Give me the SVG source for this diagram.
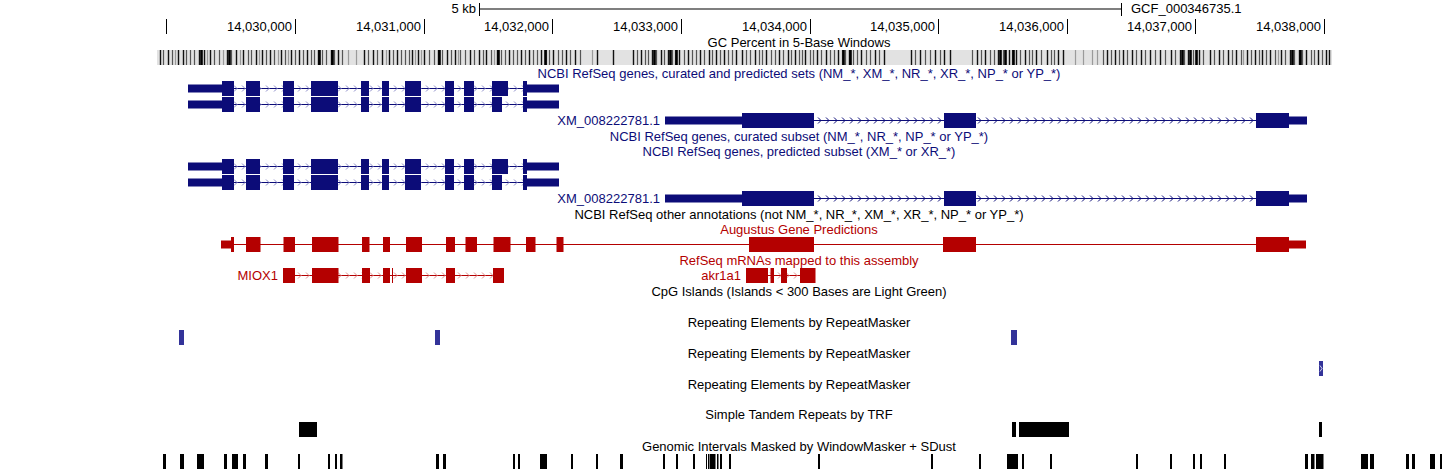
<svg xmlns="http://www.w3.org/2000/svg" width="1443" height="470" viewBox="0 0 1443 470">
<style>
.lb{font-family:"Liberation Sans",Arial,Helvetica,sans-serif;font-size:13px}
.mid{text-anchor:middle}
.end{text-anchor:end}
.nv{fill:#0c0c78}
.rd{fill:#b40000}
.bk{fill:#000}
.rp{fill:#333399}
.tk{stroke:#000;stroke-width:1}
.g0{stroke:#111;stroke-width:1.4;fill:none}
.gw{stroke:#000;stroke-width:2.6;fill:none}
.g1{stroke:#555;stroke-width:1.2;fill:none}
.g2{stroke:#9a9a9a;stroke-width:1.2;fill:none}
</style>
<defs>
<pattern id="arL" width="8" height="15" patternUnits="userSpaceOnUse"><path d="M2 4.5L5 7.5L2 10.5" fill="none" stroke="#8c8cc8" stroke-width="1"/></pattern>
<pattern id="arN" width="8" height="15" patternUnits="userSpaceOnUse"><path d="M2 4.5L5 7.5L2 10.5" fill="none" stroke="#0c0c78" stroke-width="1"/></pattern>
<pattern id="arR" width="8" height="15" patternUnits="userSpaceOnUse"><path d="M2 4.5L5 7.5L2 10.5" fill="none" stroke="#e08c8c" stroke-width="1"/></pattern>
</defs>
<rect width="1443" height="470" fill="#fff"/>

<g id="ruler">
<text class="lb end bk" x="476" y="13">5 kb</text>
<rect x="479" y="8.5" width="643" height="1" fill="#000"/>
<rect x="479" y="3" width="1" height="13" fill="#000"/>
<rect x="1121" y="3" width="1" height="13" fill="#000"/>
<text class="lb bk" x="1131" y="13">GCF_000346735.1</text>
<path class="tk" d="M166.5 19v15M295.5 19v15M424.5 19v15M552.5 19v15M681.5 19v15M810.5 19v15M938.5 19v15M1067.5 19v15M1195.5 19v15M1324.5 19v15"/>
<text class="lb end bk" x="292" y="31">14,030,000</text>
<text class="lb end bk" x="421" y="31">14,031,000</text>
<text class="lb end bk" x="549" y="31">14,032,000</text>
<text class="lb end bk" x="678" y="31">14,033,000</text>
<text class="lb end bk" x="807" y="31">14,034,000</text>
<text class="lb end bk" x="935" y="31">14,035,000</text>
<text class="lb end bk" x="1064" y="31">14,036,000</text>
<text class="lb end bk" x="1192" y="31">14,037,000</text>
<text class="lb end bk" x="1321" y="31">14,038,000</text>
</g>

<g id="gc-track">
<text class="lb mid bk" x="799" y="47">GC Percent in 5-Base Windows</text>
<rect x="157" y="50" width="1175" height="15" fill="#e2e2e2"/>
<path class="g2" d="M175.5 50v15M207.5 50v15M223.5 50v15M240.5 50v15M259.5 50v15M278.5 50v15M288.5 50v15M348.5 50v15M356.5 50v15M386.5 50v15M415.5 50v15M421.5 50v15M458.5 50v15M494.5 50v15M592.5 50v15M1075.5 50v15M1083.5 50v15M1092.5 50v15M1097.5 50v15M1243.5 50v15M1278.5 50v15"/>
<path class="g1" d="M163.5 50v15M172.5 50v15M186.5 50v15M190.5 50v15M194.5 50v15M214.5 50v15M219.5 50v15M231.5 50v15M248.5 50v15M251.5 50v15M266.5 50v15M274.5 50v15M285.5 50v15M295.5 50v15M303.5 50v15M311.5 50v15M314.5 50v15M322.5 50v15M326.5 50v15M334.5 50v15M342.5 50v15M368.5 50v15M377.5 50v15M393.5 50v15M401.5 50v15M405.5 50v15M409.5 50v15M429.5 50v15M434.5 50v15M442.5 50v15M451.5 50v15M460.5 50v15M465.5 50v15M474.5 50v15M483.5 50v15M491.5 50v15M501.5 50v15M505.5 50v15M513.5 50v15M517.5 50v15M525.5 50v15M533.5 50v15M537.5 50v15M546.5 50v15M549.5 50v15M558.5 50v15M562.5 50v15M570.5 50v15M580.5 50v15M637.5 50v15M645.5 50v15M648.5 50v15M656.5 50v15M664.5 50v15M672.5 50v15M675.5 50v15M684.5 50v15M692.5 50v15M696.5 50v15M704.5 50v15M712.5 50v15M720.5 50v15M728.5 50v15M732.5 50v15M746.5 50v15M750.5 50v15M759.5 50v15M762.5 50v15M771.5 50v15M775.5 50v15M783.5 50v15M791.5 50v15M799.5 50v15M802.5 50v15M810.5 50v15M813.5 50v15M821.5 50v15M830.5 50v15M834.5 50v15M842.5 50v15M845.5 50v15M853.5 50v15M857.5 50v15M866.5 50v15M870.5 50v15M879.5 50v15M915.5 50v15M925.5 50v15M930.5 50v15M940.5 50v15M972.5 50v15M981.5 50v15M990.5 50v15M994.5 50v15M1003.5 50v15M1012.5 50v15M1020.5 50v15M1029.5 50v15M1032.5 50v15M1041.5 50v15M1051.5 50v15M1054.5 50v15M1103.5 50v15M1111.5 50v15M1119.5 50v15M1127.5 50v15M1136.5 50v15M1145.5 50v15M1155.5 50v15M1165.5 50v15M1175.5 50v15M1184.5 50v15M1193.5 50v15M1203.5 50v15M1214.5 50v15M1223.5 50v15M1232.5 50v15M1241.5 50v15M1251.5 50v15M1259.5 50v15M1266.5 50v15M1275.5 50v15M1285.5 50v15M1294.5 50v15M1302.5 50v15M1311.5 50v15M1314.5 50v15M1322.5 50v15"/>
<path class="g0" d="M160.5 50v15M168.5 50v15M178.5 50v15M183.5 50v15M199.5 50v15M204.5 50v15M210.5 50v15M227.5 50v15M236.5 50v15M243.5 50v15M256.5 50v15M262.5 50v15M270.5 50v15M281.5 50v15M291.5 50v15M299.5 50v15M307.5 50v15M318.5 50v15M331.5 50v15M338.5 50v15M364.5 50v15M373.5 50v15M382.5 50v15M389.5 50v15M397.5 50v15M412.5 50v15M418.5 50v15M424.5 50v15M438.5 50v15M447.5 50v15M455.5 50v15M470.5 50v15M479.5 50v15M486.5 50v15M497.5 50v15M509.5 50v15M521.5 50v15M529.5 50v15M541.5 50v15M553.5 50v15M566.5 50v15M575.5 50v15M597.5 50v15M613.5 50v15M633.5 50v15M641.5 50v15M652.5 50v15M661.5 50v15M668.5 50v15M679.5 50v15M688.5 50v15M700.5 50v15M709.5 50v15M716.5 50v15M724.5 50v15M736.5 50v15M742.5 50v15M755.5 50v15M766.5 50v15M779.5 50v15M788.5 50v15M795.5 50v15M805.5 50v15M817.5 50v15M826.5 50v15M838.5 50v15M849.5 50v15M861.5 50v15M875.5 50v15M884.5 50v15M911.5 50v15M920.5 50v15M935.5 50v15M944.5 50v15M950.5 50v15M977.5 50v15M985.5 50v15M998.5 50v15M1009.5 50v15M1016.5 50v15M1025.5 50v15M1036.5 50v15M1047.5 50v15M1058.5 50v15M1063.5 50v15M1107.5 50v15M1115.5 50v15M1123.5 50v15M1132.5 50v15M1141.5 50v15M1150.5 50v15M1160.5 50v15M1171.5 50v15M1180.5 50v15M1188.5 50v15M1199.5 50v15M1210.5 50v15M1219.5 50v15M1228.5 50v15M1236.5 50v15M1247.5 50v15M1255.5 50v15M1262.5 50v15M1270.5 50v15M1281.5 50v15M1290.5 50v15M1299.5 50v15M1306.5 50v15M1318.5 50v15M1326.5 50v15M1329.5 50v15"/>
<path class="gw" d="M201.5 50v15M229.5 50v15M319.5 50v15M332.5 50v15M439.5 50v15M498.5 50v15M545.5 50v15M654.5 50v15M670.5 50v15M676.5 50v15M843.5 50v15M850.5 50v15M1000.5 50v15M1005.5 50v15M1013.5 50v15M1182.5 50v15M1190.5 50v15M1196.5 50v15M1292.5 50v15M1300.5 50v15"/>
</g>

<g id="refseq-all">
<text class="lb mid nv" x="799" y="78">NCBI RefSeq genes, curated and predicted sets (NM_*, XM_*, NR_*, XR_*, NP_* or YP_*)</text>
<g id="refseq-all-row1" transform="translate(0,81)" class="nv">
<rect x="234" y="7" width="289" height="1"/>
<rect x="234" y="0" width="289" height="15" fill="url(#arL)"/>
<rect x="188" y="3.5" width="34" height="8"/>
<rect x="222" y="0" width="12" height="15"/><rect x="246" y="0" width="14" height="15"/><rect x="283" y="0" width="11" height="15"/><rect x="311" y="0" width="27" height="15"/><rect x="361" y="0" width="8" height="15"/><rect x="382" y="0" width="7" height="15"/><rect x="405" y="0" width="16" height="15"/><rect x="445" y="0" width="9" height="15"/><rect x="464" y="0" width="10" height="15"/><rect x="492" y="0" width="16" height="15"/><rect x="523" y="0" width="4" height="15"/>
<rect x="527" y="3.5" width="32" height="8"/>
</g>
<g id="refseq-all-row2" transform="translate(0,97)" class="nv">
<rect x="234" y="7" width="289" height="1"/>
<rect x="234" y="0" width="289" height="15" fill="url(#arL)"/>
<rect x="188" y="3.5" width="34" height="8"/>
<rect x="222" y="0" width="12" height="15"/><rect x="246" y="0" width="14" height="15"/><rect x="283" y="0" width="11" height="15"/><rect x="311" y="0" width="27" height="15"/><rect x="361" y="0" width="8" height="15"/><rect x="382" y="0" width="7" height="15"/><rect x="405" y="0" width="16" height="15"/><rect x="445" y="0" width="9" height="15"/><rect x="464" y="0" width="10" height="15"/><rect x="492" y="0" width="10" height="15"/><rect x="523" y="0" width="4" height="15"/>
<rect x="527" y="3.5" width="32" height="8"/>
</g>
<g id="refseq-all-xm" transform="translate(0,113)" class="nv">
<text class="lb end" x="660" y="12">XM_008222781.1</text>
<rect x="814" y="7" width="442" height="1"/>
<rect x="814" y="0" width="442" height="15" fill="url(#arN)"/>
<rect x="665" y="3.5" width="77" height="8"/>
<rect x="742" y="0" width="72" height="15"/><rect x="944" y="0" width="32" height="15"/><rect x="1256" y="0" width="33" height="15"/>
<rect x="1289" y="3.5" width="18" height="8"/>
</g>
</g>

<g id="refseq-curated">
<text class="lb mid nv" x="799" y="141">NCBI RefSeq genes, curated subset (NM_*, NR_*, NP_* or YP_*)</text>
</g>

<g id="refseq-predicted">
<text class="lb mid nv" x="799" y="156">NCBI RefSeq genes, predicted subset (XM_* or XR_*)</text>
<g id="refseq-pred-row1" transform="translate(0,159)" class="nv">
<rect x="234" y="7" width="289" height="1"/>
<rect x="234" y="0" width="289" height="15" fill="url(#arL)"/>
<rect x="188" y="3.5" width="34" height="8"/>
<rect x="222" y="0" width="12" height="15"/><rect x="246" y="0" width="14" height="15"/><rect x="283" y="0" width="11" height="15"/><rect x="311" y="0" width="27" height="15"/><rect x="361" y="0" width="8" height="15"/><rect x="382" y="0" width="7" height="15"/><rect x="405" y="0" width="16" height="15"/><rect x="445" y="0" width="9" height="15"/><rect x="464" y="0" width="10" height="15"/><rect x="492" y="0" width="16" height="15"/><rect x="523" y="0" width="4" height="15"/>
<rect x="527" y="3.5" width="32" height="8"/>
</g>
<g id="refseq-pred-row2" transform="translate(0,175)" class="nv">
<rect x="234" y="7" width="289" height="1"/>
<rect x="234" y="0" width="289" height="15" fill="url(#arL)"/>
<rect x="188" y="3.5" width="34" height="8"/>
<rect x="222" y="0" width="12" height="15"/><rect x="246" y="0" width="14" height="15"/><rect x="283" y="0" width="11" height="15"/><rect x="311" y="0" width="27" height="15"/><rect x="361" y="0" width="8" height="15"/><rect x="382" y="0" width="7" height="15"/><rect x="405" y="0" width="16" height="15"/><rect x="445" y="0" width="9" height="15"/><rect x="464" y="0" width="10" height="15"/><rect x="492" y="0" width="10" height="15"/><rect x="523" y="0" width="4" height="15"/>
<rect x="527" y="3.5" width="32" height="8"/>
</g>
<g id="refseq-pred-xm" transform="translate(0,191)" class="nv">
<text class="lb end" x="660" y="12">XM_008222781.1</text>
<rect x="814" y="7" width="442" height="1"/>
<rect x="814" y="0" width="442" height="15" fill="url(#arN)"/>
<rect x="665" y="3.5" width="77" height="8"/>
<rect x="742" y="0" width="72" height="15"/><rect x="944" y="0" width="32" height="15"/><rect x="1256" y="0" width="33" height="15"/>
<rect x="1289" y="3.5" width="18" height="8"/>
</g>
</g>

<g id="refseq-other">
<text class="lb mid bk" x="799" y="219">NCBI RefSeq other annotations (not NM_*, NR_*, XM_*, XR_*, NP_* or YP_*)</text>
</g>

<g id="augustus">
<text class="lb mid rd" x="799" y="234">Augustus Gene Predictions</text>
<g transform="translate(0,237)" class="rd">
<rect x="221" y="7" width="1068" height="1"/>
<rect x="221" y="3.5" width="10" height="8"/>
<rect x="231" y="0" width="3" height="15"/><rect x="246" y="0" width="14.5" height="15"/><rect x="283.5" y="0" width="11.5" height="15"/><rect x="312" y="0" width="26.5" height="15"/><rect x="362" y="0" width="7.5" height="15"/><rect x="383" y="0" width="7" height="15"/><rect x="406" y="0" width="16" height="15"/><rect x="446" y="0" width="9" height="15"/><rect x="465.5" y="0" width="11.5" height="15"/><rect x="493.5" y="0" width="17" height="15"/><rect x="526" y="0" width="9.5" height="15"/><rect x="556.5" y="0" width="7" height="15"/><rect x="749" y="0" width="65" height="15"/><rect x="943" y="0" width="33" height="15"/><rect x="1256" y="0" width="33" height="15"/>
<rect x="1289" y="3.5" width="17" height="8"/>
</g>
</g>

<g id="refseq-mrna">
<text class="lb mid rd" x="799" y="265">RefSeq mRNAs mapped to this assembly</text>
<g id="miox1" transform="translate(0,268)" class="rd">
<text class="lb end" x="278" y="12">MIOX1</text>
<rect x="295" y="7" width="198" height="1"/>
<rect x="295" y="0" width="198" height="15" fill="url(#arR)"/>
<rect x="283" y="0" width="12" height="15"/><rect x="312" y="0" width="26.5" height="15"/><rect x="362" y="0" width="8" height="15"/><rect x="383" y="0" width="7" height="15"/><rect x="392" y="0" width="1" height="15"/><rect x="406" y="0" width="16" height="15"/><rect x="446" y="0" width="9" height="15"/><rect x="493" y="0" width="11" height="15"/>
</g>
<g id="akr1a1" transform="translate(0,268)" class="rd">
<text class="lb end" x="741" y="12">akr1a1</text>
<rect x="768" y="7" width="32" height="1"/>
<rect x="768" y="0" width="32" height="15" fill="url(#arR)"/>
<rect x="746" y="0" width="22" height="15"/><rect x="770.5" y="0" width="3.5" height="15"/><rect x="781" y="0" width="6" height="15"/><rect x="800" y="0" width="15.5" height="15"/>
</g>
</g>

<g id="cpg">
<text class="lb mid bk" x="799" y="296">CpG Islands (Islands &lt; 300 Bases are Light Green)</text>
</g>

<g id="repeats1">
<text class="lb mid bk" x="799" y="327">Repeating Elements by RepeatMasker</text>
<rect class="rp" x="179" y="330" width="5" height="15"/>
<rect class="rp" x="435" y="330" width="5" height="15"/>
<rect class="rp" x="1011" y="330" width="6" height="15"/>
</g>
<g id="repeats2">
<text class="lb mid bk" x="799" y="358">Repeating Elements by RepeatMasker</text>
<rect class="rp" x="1319" y="361" width="4" height="15"/>
<path d="M1320 365.5L1322 368.5L1320 371.5" fill="none" stroke="#fff" stroke-width="0.8"/>
</g>
<g id="repeats3">
<text class="lb mid bk" x="799" y="389">Repeating Elements by RepeatMasker</text>
</g>

<g id="trf">
<text class="lb mid bk" x="799" y="419">Simple Tandem Repeats by TRF</text>
<g class="bk">
<rect x="299" y="422" width="18" height="15"/>
<rect x="1012" y="422" width="4" height="15"/>
<rect x="1019" y="422" width="50" height="15"/>
<rect x="1319" y="422" width="3" height="15"/>
</g>
</g>

<g id="windowmasker">
<text class="lb mid bk" x="799" y="451">Genomic Intervals Masked by WindowMasker + SDust</text>
<g class="bk">
<rect x="163" y="454" width="3" height="15"/><rect x="180" y="454" width="4" height="15"/><rect x="197" y="454" width="7" height="15"/><rect x="224" y="454" width="3" height="15"/><rect x="232" y="454" width="6" height="15"/><rect x="243" y="454" width="3" height="15"/><rect x="265" y="454" width="3" height="15"/><rect x="298" y="454" width="2" height="15"/><rect x="328" y="454" width="2" height="15"/><rect x="335" y="454" width="2" height="15"/><rect x="340" y="454" width="2.5" height="15"/><rect x="436" y="454" width="3" height="15"/><rect x="443" y="454" width="3" height="15"/><rect x="513" y="454" width="2" height="15"/><rect x="518" y="454" width="2" height="15"/><rect x="540" y="454" width="7" height="15"/><rect x="571" y="454" width="2" height="15"/><rect x="596" y="454" width="2" height="15"/><rect x="620" y="454" width="3" height="15"/><rect x="663" y="454" width="2" height="15"/><rect x="676" y="454" width="2" height="15"/><rect x="693" y="454" width="2" height="15"/><rect x="706" y="454" width="1" height="15"/><rect x="708" y="454" width="1" height="15"/><rect x="709.5" y="454" width="6" height="15"/><rect x="717" y="454" width="1.5" height="15"/><rect x="720" y="454" width="2" height="15"/><rect x="729" y="454" width="2" height="15"/><rect x="818" y="454" width="2" height="15"/><rect x="931" y="454" width="2" height="15"/><rect x="979" y="454" width="2" height="15"/><rect x="1007" y="454" width="11" height="15"/><rect x="1022" y="454" width="2" height="15"/><rect x="1050" y="454" width="2" height="15"/><rect x="1136" y="454" width="2" height="15"/><rect x="1170" y="454" width="2" height="15"/><rect x="1193" y="454" width="2" height="15"/><rect x="1200" y="454" width="2" height="15"/><rect x="1224" y="454" width="2" height="15"/><rect x="1305" y="454" width="3" height="15"/><rect x="1311" y="454" width="3.5" height="15"/><rect x="1316" y="454" width="7.5" height="15"/><rect x="1361" y="454" width="7" height="15"/><rect x="1370" y="454" width="4" height="15"/><rect x="1406" y="454" width="3" height="15"/><rect x="1412" y="454" width="3" height="15"/><rect x="1430" y="454" width="5" height="15"/><rect x="1440" y="454" width="2" height="15"/>
</g>
</g>
</svg>
